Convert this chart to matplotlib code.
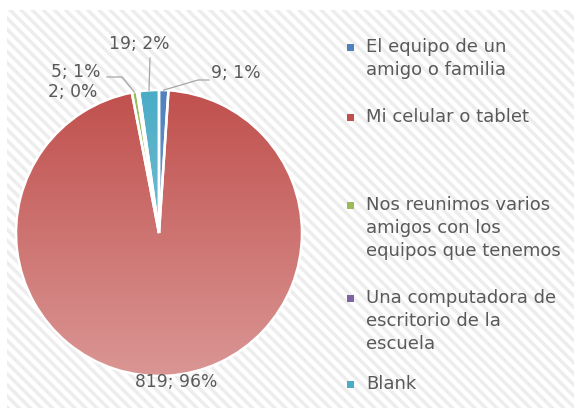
import numpy as np
import matplotlib
matplotlib.use("Agg")
import matplotlib.pyplot as plt
from matplotlib.patches import Rectangle
from matplotlib.colors import LinearSegmentedColormap

# data
categories = ["El equipo de un\namigo o familia",
              "Mi celular o tablet",
              "Nos reunimos varios\namigos con los\nequipos que tenemos",
              "Una computadora de\nescritorio de la\nescuela",
              "Blank"]
values = [9, 819, 5, 2, 19]
colors_top = ["#4F81BD", "#C0504D", "#9BBB59", "#8064A2", "#4BACC6"]
colors_bot = ["#95B3D7", "#DA9694", "#C3D69B", "#B2A2C7", "#92CDDC"]

plt.rcParams['font.family'] = ['DejaVu Sans']
plt.rcParams['hatch.linewidth'] = 2.5
txt_col = "#595959"

W, H = 574, 408
fig = plt.figure(figsize=(W / 100, H / 100), dpi=100)
fig.patch.set_facecolor("white")

# hatched chart-area background
bg = Rectangle((7 / W, 0), 1 - 7 / W, (H - 10) / H, transform=fig.transFigure,
               facecolor="white", edgecolor="#EDEDED", hatch="\\\\\\", lw=0, zorder=0)
fig.patches.append(bg)

# pie axes: centre (159,233), radius 143 px
cx, cy, r = 159, 233, 143
ax = fig.add_axes([(cx - r) / W, (H - cy - r) / H, 2 * r / W, 2 * r / H])
ax.set_zorder(2)
ax.patch.set_visible(False)
ax.axis("off")

wedges, _ = ax.pie(values, startangle=90, counterclock=False, radius=1,
                   wedgeprops=dict(edgecolor="white", linewidth=1.8))

# gradient fill (top darker -> bottom lighter)
grad = np.linspace(0, 1, 256).reshape(-1, 1)
for w, c1, c2 in zip(wedges, colors_top, colors_bot):
    w.set_facecolor("none")
    w.set_zorder(3)
    cmap = LinearSegmentedColormap.from_list("g", [c1, c2])
    im = ax.imshow(grad, cmap=cmap, extent=[-1, 1, -1, 1], origin="upper",
                   aspect="auto", zorder=2)
    im.set_clip_path(w)
ax.set_xlim(-1, 1)
ax.set_ylim(-1, 1)

total = sum(values)
labels = ["%d; %d%%" % (v, round(100 * v / total)) for v in values]

def px2data(x, y):
    return (x - cx) / r, (cy - y) / r

def edge_pt(w, rr=1.0):
    a = np.deg2rad((w.theta1 + w.theta2) / 2)
    return rr * np.cos(a), rr * np.sin(a)

# label centres (px) and leader-line start/elbow points (px)
lab_pos = [(236, 73), (176, 382), (76, 72), (73, 92), (139, 44)]
leaders = [[(209, 80), (198, 80)], None, [(107, 77), (122, 77)], None,
           [(150, 58), (150, 58)]]

for i, w in enumerate(wedges):
    tx, ty = px2data(*lab_pos[i])
    ax.text(tx, ty, labels[i], ha="center", va="center", fontsize=12.3,
            color=txt_col, clip_on=False, zorder=6)
    if leaders[i] is not None:
        pts = [px2data(*p) for p in leaders[i]]
        ex, ey = edge_pt(w, 1.0)
        xs = [p[0] for p in pts] + [ex]
        ys = [p[1] for p in pts] + [ey]
        ax.plot(xs, ys, color="#A6A6A6", lw=0.9, clip_on=False, zorder=5)

# legend
leg_y = [47, 117, 205, 298, 384]
for c, lab, y in zip(colors_top, categories, leg_y):
    fig.patches.append(Rectangle((347 / W, (H - y - 4) / H), 7 / W, 7 / H,
                                 transform=fig.transFigure, facecolor=c,
                                 edgecolor="none", zorder=3))
    fig.text(366 / W, (H - y + 9) / H, lab, ha="left", va="top",
             fontsize=13, color=txt_col, linespacing=1.36, zorder=3)

fig.savefig("out.png", dpi=100)
